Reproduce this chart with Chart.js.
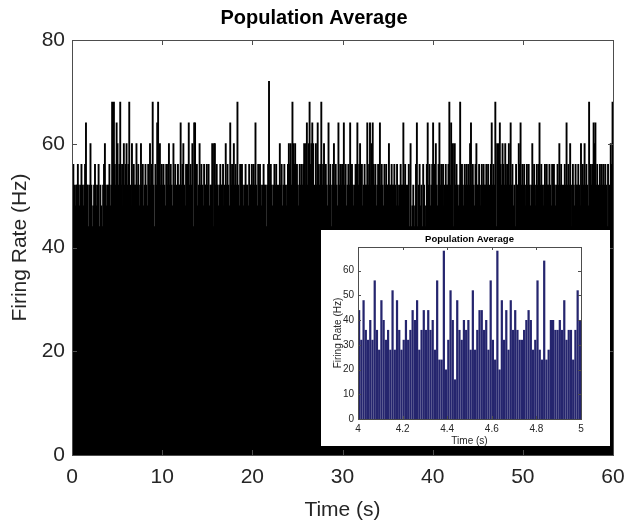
<!DOCTYPE html>
<html>
<head>
<meta charset="utf-8">
<script src="https://cdn.jsdelivr.net/npm/chart.js@4.4.1/dist/chart.umd.min.js"></script>
<style>
  html, body { margin: 0; padding: 0; background: #fff; }
  #wrap { position: relative; width: 628px; height: 525px; background: #fff; }
  #main { position: absolute; left: 0; top: 0; }
  #insetBox { position: absolute; left: 321px; top: 230px; width: 289px; height: 216px; background: #fff; }
  #inset { position: absolute; left: 0; top: 0; }
</style>
</head>
<body>
<div id="wrap">
  <canvas id="main" width="628" height="525"></canvas>
  <div id="insetBox"><canvas id="inset" width="289" height="216"></canvas></div>
</div>
<script>
// ---------- DATA ----------
const mainTitle = 'Population Average';
const xLabel = 'Time (s)';
const yLabel = 'Firing Rate (Hz)';

// main histogram: 0.1 s bins from 0 to 60 s (firing rate, Hz)
const mainStart = 0;
const mainBin = 0.1;
const mainRates = [
  // 0-10 s
  52,56,52,48,52,52,56,52,48,52, 56,52,48,52,56,64,52,52,44,52,
  60,52,44,48,52,56,52,48,52,56, 44,52,48,44,52,56,60,52,48,52,
  52,56,48,52,68,52,68,56,52,64, 60,52,56,68,52,56,48,60,52,56,
  60,52,56,68,52,48,60,52,56,52, 52,60,52,56,48,52,60,52,56,48,
  52,56,52,48,56,52,60,52,56,68, 52,44,56,52,64,68,52,60,52,56,
  // 10-20 s
  52,56,52,48,56,52,56,60,52,56, 52,48,60,52,56,52,48,56,52,52,
  64,52,56,60,52,48,56,52,56,64, 52,56,52,60,44,64,64,52,56,48,
  52,60,52,56,52,48,56,52,52,56, 52,56,48,52,52,60,44,60,60,52,
  56,52,48,52,56,52,52,56,48,52, 60,52,56,52,48,64,52,56,52,60,
  52,56,52,68,52,48,56,52,56,52, 48,52,56,52,52,48,56,52,52,56,
  // 20-30 s
  52,56,52,64,52,48,56,52,56,52, 48,52,56,52,52,44,52,56,72,52,
  56,52,48,52,56,52,56,52,44,52, 60,52,56,48,52,56,52,48,52,56,
  60,56,60,52,68,60,56,60,52,56, 52,48,56,52,56,52,56,60,52,60,
  64,52,60,68,56,60,64,60,52,44, 60,52,64,56,52,56,68,52,56,60,
  52,56,52,48,64,52,56,44,52,56, 60,52,56,52,48,64,52,56,52,56,
  // 30-40 s
  52,64,52,56,48,52,56,52,64,52, 56,52,48,52,56,56,64,52,56,60,
  52,56,48,52,56,52,52,64,52,56, 64,52,60,64,56,52,56,48,52,56,
  52,64,52,56,52,48,56,52,56,52, 52,60,52,52,56,52,52,56,52,48,
  56,52,48,52,56,52,52,64,52,56, 52,48,52,56,44,60,44,48,52,44,
  48,56,64,44,52,56,48,52,44,56, 52,48,44,56,64,52,56,48,52,56,
  // 40-50 s
  64,52,56,60,52,48,56,64,52,56, 52,56,48,52,56,52,52,56,68,52,
  64,56,60,44,60,52,56,52,48,52, 68,52,56,52,48,56,52,56,52,56,
  52,60,64,52,56,52,48,56,60,52, 52,56,52,48,56,52,56,52,52,56,
  52,56,48,52,56,64,52,56,52,68, 44,60,52,60,64,56,52,60,56,52,
  60,52,56,52,60,52,64,52,56,48, 52,44,56,52,52,60,56,64,52,56,
  // 50-60 s
  52,56,48,52,56,52,56,52,48,52, 60,52,56,52,48,56,52,56,64,52,
  56,52,48,52,56,52,56,52,52,56, 52,48,56,52,56,52,48,52,56,52,
  60,52,56,52,48,52,56,52,64,52, 56,52,60,44,52,56,52,48,56,52,
  52,56,52,48,60,52,56,52,60,52, 56,52,48,68,52,56,52,56,64,60,
  64,52,56,52,48,56,52,56,52,56, 52,56,52,44,56,44,52,60,56,68
];
const mainXTicks = [0, 10, 20, 30, 40, 50, 60];
const mainYTicks = [0, 20, 40, 60, 80];

// inset: 10 ms bins from 4 to 5 s
const insetStart = 4;
const insetBin = 0.01;
const insetRates = [
  44,32,48,36,32,40,32,56,36,28, 48,40,32,36,28,52,28,48,36,28,
  32,40,32,36,44,40,48,28,36,44, 36,44,36,40,28,56,24,24,68,20,
  32,52,40,16,48,36,32,40,36,40, 28,52,28,36,44,44,36,40,28,56,
  32,24,68,20,48,32,44,28,48,36, 44,36,32,32,36,40,44,40,28,32,
  56,28,24,64,24,28,40,40,36,36, 40,36,48,32,36,36,24,36,52,40
];
const insetXTicks = [4, 4.2, 4.4, 4.6, 4.8, 5];
const insetYTicks = [0, 10, 20, 30, 40, 50, 60];

// ---------- HELPERS ----------
const FONT = "'Liberation Sans', Arial, Helvetica, sans-serif";
const TXT = '#262626';
const AX = '#4d4d4d';

function boxTicksPlugin(xTicks, yTicks, len) {
  return {
    id: 'boxTicks',
    afterDatasetsDraw(chart) {
      const {ctx, chartArea: a, scales} = chart;
      ctx.save();
      ctx.strokeStyle = AX;
      ctx.lineWidth = 1;
      ctx.beginPath();
      xTicks.forEach(v => {
        const px = Math.round(scales.x.getPixelForValue(v)) + 0.5;
        ctx.moveTo(px, a.bottom); ctx.lineTo(px, a.bottom - len);
        ctx.moveTo(px, a.top); ctx.lineTo(px, a.top + len);
      });
      yTicks.forEach(v => {
        const py = Math.round(scales.y.getPixelForValue(v)) + 0.5;
        ctx.moveTo(a.left, py); ctx.lineTo(a.left + len, py);
        ctx.moveTo(a.right, py); ctx.lineTo(a.right - len, py);
      });
      ctx.stroke();
      ctx.strokeRect(Math.round(a.left) + 0.5, Math.round(a.top) + 0.5,
                     Math.round(a.right - a.left), Math.round(a.bottom - a.top));
      ctx.restore();
    }
  };
}

function toPoints(start, bin, rates) {
  return rates.map((v, i) => ({x: start + (i + 0.5) * bin, y: v}));
}

// ---------- MAIN CHART ----------
new Chart(document.getElementById('main'), {
  type: 'bar',
  data: {
    datasets: [{
      data: toPoints(mainStart, mainBin, mainRates),
      backgroundColor: '#000',
      borderWidth: 0,
      barPercentage: 1,
      categoryPercentage: 1,
      inflateAmount: 0.5
    }]
  },
  options: {
    responsive: false,
    animation: false,
    devicePixelRatio: 1,
    layout: { padding: 0 },
    plugins: {
      legend: { display: false },
      tooltip: { enabled: false },
      title: {
        display: true, text: mainTitle, color: '#000',
        font: { family: FONT, size: 20, weight: 'bold', lineHeight: 1.2 },
        padding: { top: 6, bottom: 10 }
      }
    },
    scales: {
      x: {
        type: 'linear', min: 0, max: 60, offset: false,
        grid: { display: false, drawTicks: false },
        border: { display: true, color: AX },
        afterBuildTicks: s => { s.ticks = mainXTicks.map(v => ({value: v})); },
        ticks: { color: TXT, font: { family: FONT, size: 21 }, padding: 10, maxRotation: 0,
                 callback: v => String(v) },
        title: { display: true, text: xLabel, color: TXT,
                 font: { family: FONT, size: 21, lineHeight: 1.2 }, padding: { top: 0, bottom: 2 } },
        afterFit: s => { s.height = 70; s.paddingLeft = 0; s.paddingRight = 15; }
      },
      y: {
        min: 0, max: 80,
        grid: { display: false, drawTicks: false },
        border: { display: true, color: AX },
        afterBuildTicks: s => { s.ticks = mainYTicks.map(v => ({value: v})); },
        ticks: { color: TXT, font: { family: FONT, size: 21 }, padding: 7,
                 callback: v => String(v) },
        title: { display: true, text: yLabel, color: TXT,
                 font: { family: FONT, size: 21, lineHeight: 1.2 }, padding: { top: 8, bottom: 0 } },
        afterFit: s => { s.width = 72; }
      }
    }
  },
  plugins: [boxTicksPlugin(mainXTicks, mainYTicks, 5)]
});

// ---------- INSET CHART ----------
new Chart(document.getElementById('inset'), {
  type: 'bar',
  data: {
    datasets: [{
      data: toPoints(insetStart, insetBin, insetRates),
      backgroundColor: '#25256e',
      borderWidth: 0,
      barPercentage: 1,
      categoryPercentage: 1,
      inflateAmount: 0
    }]
  },
  options: {
    responsive: false,
    animation: false,
    devicePixelRatio: 1,
    layout: { padding: 0 },
    plugins: {
      legend: { display: false },
      tooltip: { enabled: false },
      title: {
        display: true, text: mainTitle, color: '#000', fullSize: false,
        font: { family: FONT, size: 9.5, weight: 'bold', lineHeight: 1.2 },
        padding: { top: 4, bottom: 1.6 }
      }
    },
    scales: {
      x: {
        type: 'linear', min: 4, max: 5, offset: false,
        grid: { display: false, drawTicks: false },
        border: { display: true, color: AX },
        afterBuildTicks: s => { s.ticks = insetXTicks.map(v => ({value: v})); },
        ticks: { color: TXT, font: { family: FONT, size: 10 }, padding: 4, maxRotation: 0,
                 callback: v => String(Math.round(v * 10) / 10) },
        title: { display: true, text: xLabel, color: TXT,
                 font: { family: FONT, size: 10, lineHeight: 1 }, padding: { top: 0, bottom: 0 } },
        afterFit: s => { s.height = 27; s.paddingLeft = 0; s.paddingRight = 29; }
      },
      y: {
        min: 0, max: 69.5,
        grid: { display: false, drawTicks: false },
        border: { display: true, color: AX },
        afterBuildTicks: s => { s.ticks = insetYTicks.map(v => ({value: v})); },
        ticks: { color: TXT, font: { family: FONT, size: 10 }, padding: 4,
                 callback: v => String(v) },
        title: { display: true, text: yLabel, color: TXT,
                 font: { family: FONT, size: 10, lineHeight: 1.2 }, padding: { top: 11, bottom: 0 } },
        afterFit: s => { s.width = 37; }
      }
    }
  },
  plugins: [boxTicksPlugin(insetXTicks, insetYTicks, 3)]
});
</script>
</body>
</html>
